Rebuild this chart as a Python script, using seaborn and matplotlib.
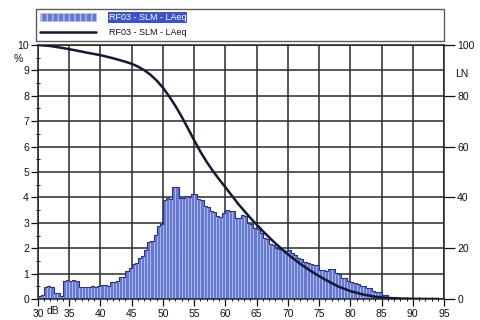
import numpy as np
import pandas as pd
import seaborn as sns
import matplotlib.pyplot as plt
from matplotlib.patches import Patch
from matplotlib.lines import Line2D
from matplotlib.ticker import MultipleLocator

sns.set_theme(style="white")
plt.rcParams['font.family'] = ['Liberation Sans', 'DejaVu Sans']

# Level distribution, 0.5 dB classes starting at 30 dB (percent of time)
class_start = 30.0
class_width = 0.5
level_pct = [
    0.10, 0.16, 0.48, 0.50, 0.46, 0.24, 0.22, 0.10, 0.72, 0.74,   # 30 - 34.5
    0.72, 0.73, 0.70, 0.46, 0.47, 0.48, 0.47, 0.50, 0.48, 0.50,   # 35 - 39.5
    0.55, 0.54, 0.50, 0.66, 0.68, 0.70, 0.85, 0.88, 1.10, 1.22,   # 40 - 44.5
    1.38, 1.40, 1.62, 1.68, 1.93, 2.25, 2.30, 2.52, 2.88, 2.95,   # 45 - 49.5
    3.90, 3.97, 3.95, 4.42, 4.40, 3.97, 3.98, 4.05, 4.03, 4.13,   # 50 - 54.5
    4.12, 3.92, 3.88, 3.65, 3.62, 3.45, 3.42, 3.26, 3.24, 3.37,   # 55 - 59.5
    3.50, 3.48, 3.46, 3.20, 3.18, 3.30, 3.28, 3.00, 2.96, 2.80,   # 60 - 64.5
    2.75, 2.60, 2.42, 2.38, 2.15, 2.12, 2.00, 1.98, 1.92, 1.90,   # 65 - 69.5
    1.93, 1.80, 1.73, 1.62, 1.58, 1.45, 1.42, 1.38, 1.34, 1.32,   # 70 - 74.5
    1.16, 1.14, 1.12, 1.20, 1.19, 1.02, 1.00, 0.84, 0.82, 0.69,   # 75 - 79.5
    0.67, 0.62, 0.61, 0.52, 0.50, 0.44, 0.42, 0.30, 0.29, 0.28,   # 80 - 84.5
    0.16, 0.15, 0.09, 0.08, 0.06, 0.05, 0.05, 0.04, 0.04, 0.03,   # 85 - 89.5
    0.03, 0.02, 0.02, 0.01, 0.01, 0.00, 0.00, 0.00, 0.00, 0.00,   # 90 - 94.5
]

# Exceedance curve LN (percent of time the level is exceeded)
ln_level = [30, 32, 34, 36, 38, 40, 42, 44, 45, 46, 47, 48, 49, 50, 51, 52,
            53, 54, 55, 56, 57, 58, 59, 60, 62, 64, 66, 68, 70, 72, 74, 76,
            78, 80, 82, 84, 86, 88, 90, 92, 94]
ln_pct = [100.0, 99.6, 98.8, 97.9, 96.9, 96.0, 94.8, 93.4, 92.6, 91.5, 90.1,
          88.3, 86.0, 83.2, 79.8, 76.0, 71.8, 67.2, 62.5, 58.0, 54.0, 50.4,
          47.1, 44.0, 37.6, 31.9, 26.7, 21.9, 17.6, 13.8, 10.5, 7.6, 5.0,
          3.1, 1.8, 0.9, 0.4, 0.18, 0.08, 0.03, 0.0]

x_ticks = list(range(30, 100, 5))
y_ticks_pct = list(range(0, 11))
y_ticks_ln = list(range(0, 101, 20))
series_name = "RF03 - SLM - LAeq"

bar_face = "#6479cf"
bar_edge = "#b4c0ee"
bar_outline = "#27348a"
curve_color = "#141a33"
grid_color = "#2a2a2a"

n = len(level_pct)
class_end = class_start + class_width * n
df = pd.DataFrame({
    "level": class_start + class_width * (np.arange(n) + 0.5),
    "pct": level_pct,
})
ln_df = pd.DataFrame({"level": ln_level, "ln": ln_pct})

fig = plt.figure(figsize=(4.8, 3.2), dpi=100)
ax = fig.add_axes([38 / 480, 1 - 299 / 320, 406 / 480, 254 / 320])
ax.set_facecolor("white")

# grid behind the bars
ax.set_axisbelow(True)
ax.grid(True, which="major", color=grid_color, linewidth=1.1)

hist_kw = dict(data=df, x="level", weights="pct", binwidth=class_width,
               binrange=(class_start, class_end), stat="count", ax=ax)
sns.histplot(element="bars", fill=True, color=bar_face, alpha=1,
             edgecolor=bar_edge, linewidth=0.6, zorder=2, **hist_kw)
sns.histplot(element="step", fill=False, color=bar_outline, linewidth=0.8,
             zorder=3, **hist_kw)

ax.set_xlim(30, 95)
ax.set_ylim(0, 10)
ax.set_xticks(x_ticks)
ax.set_xticklabels([str(v) for v in x_ticks])
ax.set_yticks(y_ticks_pct)
ax.xaxis.set_minor_locator(MultipleLocator(1))
ax.yaxis.set_minor_locator(MultipleLocator(0.5))
ax.set_xlabel("")
ax.set_ylabel("")
ax.tick_params(axis="both", which="major", labelsize=7.5, colors="#111111",
               length=5, width=0.9, direction="out", pad=1.5)
ax.tick_params(axis="both", which="minor", length=3, width=0.7,
               direction="inout", colors="#111111")
ax.tick_params(axis="x", which="major", bottom=True, pad=2)
ax.tick_params(axis="y", which="major", left=True)
ax.tick_params(axis="x", which="minor", bottom=True)
ax.tick_params(axis="y", which="minor", left=True)
for side in ax.spines.values():
    side.set_color("#222222")
    side.set_linewidth(1.1)

ax2 = ax.twinx()
sns.lineplot(data=ln_df, x="level", y="ln", color=curve_color, linewidth=1.8,
             ax=ax2, zorder=4)
ax2.set_ylim(0, 100)
ax2.set_yticks(y_ticks_ln)
ax2.set_ylabel("")
ax2.grid(False)
ax2.tick_params(axis="y", which="major", labelsize=7.5, length=8, width=0.9,
                direction="out", colors="#111111", pad=1.5, right=True)
for side in ax2.spines.values():
    side.set_visible(False)

# unit labels
fig.text(18 / 480, 1 - 59 / 320, "%", fontsize=7.5, ha="center", va="center",
         color="#111111")
fig.text(462 / 480, 1 - 74 / 320, "LN", fontsize=7.5, ha="center",
         va="center", color="#111111")
fig.text(47 / 480, 1 - 311 / 320, "dB", fontsize=7.5, ha="left",
         va="center", color="#111111")

# legend box above the plot
handles = [
    Patch(facecolor=bar_face, edgecolor=bar_edge, hatch="|||", linewidth=0.5),
    Line2D([0], [0], color=curve_color, linewidth=1.8),
]
leg = fig.legend(handles, [series_name, series_name],
                 loc="lower left",
                 bbox_to_anchor=(36 / 480, 1 - 41 / 320, 408 / 480, 31 / 320),
                 bbox_transform=fig.transFigure, mode="expand",
                 fontsize=6.5, frameon=True, fancybox=False,
                 handlelength=6.2, handleheight=0.9, handletextpad=1.4,
                 labelspacing=0.65, borderpad=0.45, borderaxespad=0)
leg.get_frame().set_edgecolor("#333333")
leg.get_frame().set_linewidth(1.0)
texts = leg.get_texts()
texts[0].set_color("white")
texts[0].set_bbox(dict(facecolor="#3d52c4", edgecolor="none", pad=0.6))
texts[1].set_color("#111111")

fig.savefig("out.png", dpi=100)
